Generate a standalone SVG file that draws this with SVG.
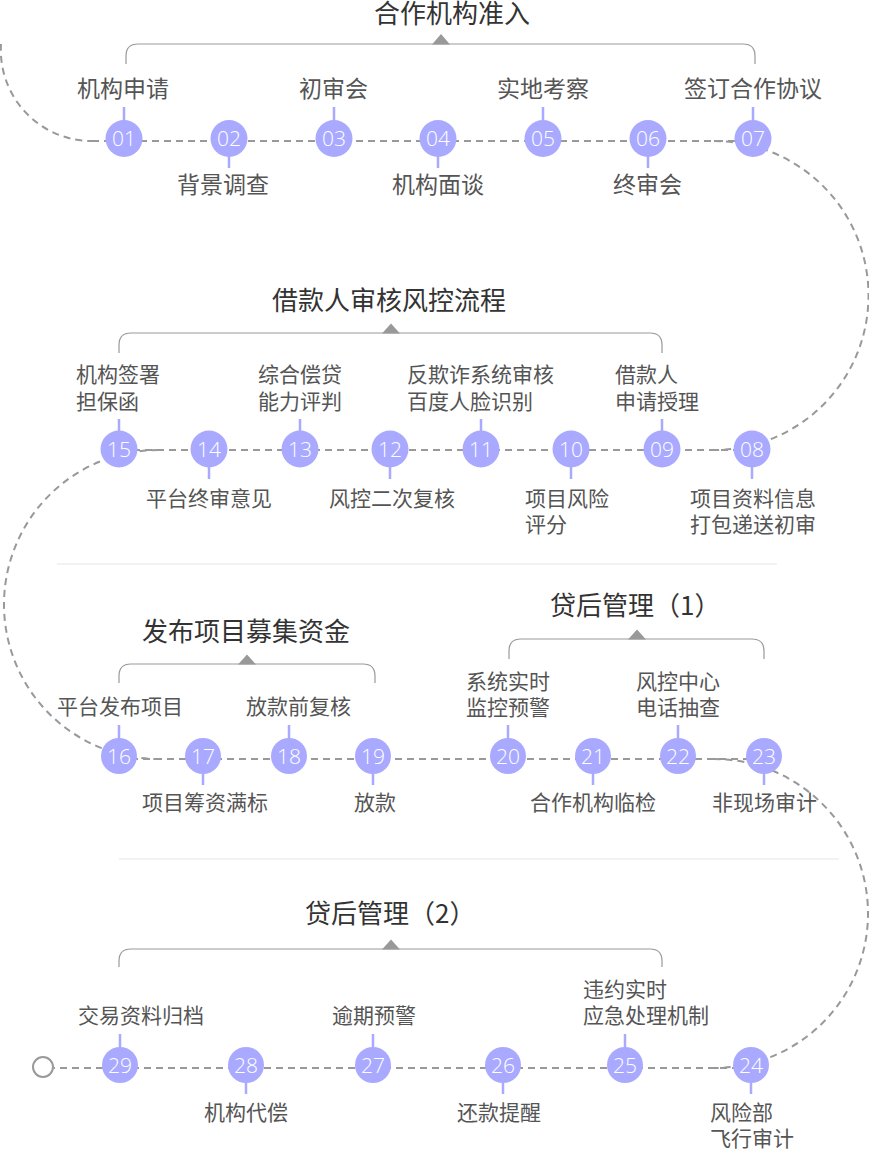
<svg xmlns="http://www.w3.org/2000/svg" width="869" height="1150" viewBox="0 0 869 1150">
<style>
.bg{fill:#ffffff}
.dash{fill:none;stroke:#999;stroke-width:2;stroke-dasharray:7 5}
.sep{stroke:#eeeeee;stroke-width:1.5}
.br{fill:none;stroke:#999;stroke-width:1.2}
.tri{fill:#999}
.dot{fill:#a9aaff}
.tick{stroke:#a9aaff;stroke-width:2.5}
.num{fill:#fff;font-family:"Open Sans","Liberation Sans",Arial,sans-serif;font-weight:300;font-size:21px;text-anchor:middle}
.t1{fill:#555;font-family:"Noto Sans CJK SC",sans-serif;font-size:23px}
.t2{fill:#555;font-family:"Noto Sans CJK SC",sans-serif;font-size:21px}
.title{fill:#333;font-family:"Noto Sans CJK SC",sans-serif;font-size:26px}
</style>
<rect class="bg" x="0" y="0" width="869" height="1150"/>
<g id="separators">
<line class="sep" x1="57" y1="564" x2="777" y2="564"/>
<line class="sep" x1="119" y1="859" x2="839" y2="859"/>
</g>
<g id="connectors">
<path class="dash" d="M 1 44 A 91 91 0 0 0 92 141"/>
<line class="dash" x1="92" y1="141" x2="753" y2="141"/>
<path class="dash" d="M 714 141 A 154.5 154.5 0 0 1 714 450"/>
<line class="dash" x1="752" y1="450" x2="119" y2="450"/>
<path class="dash" d="M 158.5 450 A 154.5 154.5 0 0 0 158.5 759"/>
<line class="dash" x1="119" y1="759" x2="764" y2="759"/>
<path class="dash" d="M 713.5 759 A 154.5 154.5 0 0 1 713.5 1068"/>
<line class="dash" x1="751" y1="1068" x2="54" y2="1068"/>
</g>
<g id="group-1">
<path class="br" d="M 126 64 L 126 56 Q 126 44 138 44 L 743 44 Q 755 44 755 56 L 755 64"/>
<polygon class="tri" points="432,44.5 450,44.5 441,34"/>
<text class="title" x="374" y="23">合作机构准入</text>
</g>
<g id="group-2">
<path class="br" d="M 119 353 L 119 345 Q 119 333 131 333 L 650 333 Q 662 333 662 345 L 662 353"/>
<polygon class="tri" points="382,333.5 400,333.5 391,323.5"/>
<text class="title" x="272" y="310">借款人审核风控流程</text>
</g>
<g id="group-3">
<path class="br" d="M 119 683 L 119 676 Q 119 664 131 664 L 363 664 Q 375 664 375 676 L 375 683"/>
<polygon class="tri" points="238,664.5 256,664.5 247,654.5"/>
<text class="title" x="142" y="641">发布项目募集资金</text>
</g>
<g id="group-4">
<path class="br" d="M 509 659 L 509 651 Q 509 639 521 639 L 752 639 Q 764 639 764 651 L 764 659"/>
<polygon class="tri" points="628,639.5 646,639.5 637,629.5"/>
<text class="title" x="550" y="615">贷后管理（1）</text>
</g>
<g id="group-5">
<path class="br" d="M 119 967 L 119 961 Q 119 949 131 949 L 650 949 Q 662 949 662 961 L 662 967"/>
<polygon class="tri" points="382,949.5 400,949.5 391,939.5"/>
<text class="title" x="305" y="923">贷后管理（2）</text>
</g>
<g id="node-01"><line class="tick" x1="124" y1="107" x2="124" y2="125"/><circle class="dot" cx="124" cy="138.5" r="18.5"/><text class="num" x="124" y="146">01</text><text class="t1" x="77" y="97">机构申请</text></g>
<g id="node-02"><line class="tick" x1="229" y1="152" x2="229" y2="168"/><circle class="dot" cx="229" cy="138.5" r="18.5"/><text class="num" x="229" y="146">02</text><text class="t1" x="177" y="193">背景调查</text></g>
<g id="node-03"><line class="tick" x1="334" y1="107" x2="334" y2="125"/><circle class="dot" cx="334" cy="138.5" r="18.5"/><text class="num" x="334" y="146">03</text><text class="t1" x="299" y="97">初审会</text></g>
<g id="node-04"><line class="tick" x1="438" y1="152" x2="438" y2="168"/><circle class="dot" cx="438" cy="138.5" r="18.5"/><text class="num" x="438" y="146">04</text><text class="t1" x="392" y="193">机构面谈</text></g>
<g id="node-05"><line class="tick" x1="543" y1="107" x2="543" y2="125"/><circle class="dot" cx="543" cy="138.5" r="18.5"/><text class="num" x="543" y="146">05</text><text class="t1" x="497" y="97">实地考察</text></g>
<g id="node-06"><line class="tick" x1="648" y1="152" x2="648" y2="168"/><circle class="dot" cx="648" cy="138.5" r="18.5"/><text class="num" x="648" y="146">06</text><text class="t1" x="613" y="193">终审会</text></g>
<g id="node-07"><line class="tick" x1="753" y1="107" x2="753" y2="125"/><circle class="dot" cx="753" cy="138.5" r="18.5"/><text class="num" x="753" y="146">07</text><text class="t1" x="684" y="97">签订合作协议</text></g>
<g id="node-08"><line class="tick" x1="752" y1="462" x2="752" y2="479"/><circle class="dot" cx="752" cy="449" r="18.5"/><text class="num" x="752" y="456.5">08</text><text class="t2" x="690" y="506">项目资料信息</text><text class="t2" x="690" y="532">打包递送初审</text></g>
<g id="node-09"><line class="tick" x1="662" y1="419" x2="662" y2="436"/><circle class="dot" cx="662" cy="449" r="18.5"/><text class="num" x="662" y="456.5">09</text><text class="t2" x="615" y="382">借款人</text><text class="t2" x="615" y="408.5">申请授理</text></g>
<g id="node-10"><line class="tick" x1="571" y1="462" x2="571" y2="479"/><circle class="dot" cx="571" cy="449" r="18.5"/><text class="num" x="571" y="456.5">10</text><text class="t2" x="525" y="506">项目风险</text><text class="t2" x="525" y="532">评分</text></g>
<g id="node-11"><line class="tick" x1="481" y1="419" x2="481" y2="436"/><circle class="dot" cx="481" cy="449" r="18.5"/><text class="num" x="481" y="456.5">11</text><text class="t2" x="407" y="382">反欺诈系统审核</text><text class="t2" x="407" y="408.5">百度人脸识别</text></g>
<g id="node-12"><line class="tick" x1="390" y1="462" x2="390" y2="479"/><circle class="dot" cx="390" cy="449" r="18.5"/><text class="num" x="390" y="456.5">12</text><text class="t2" x="329" y="506">风控二次复核</text></g>
<g id="node-13"><line class="tick" x1="300" y1="419" x2="300" y2="436"/><circle class="dot" cx="300" cy="449" r="18.5"/><text class="num" x="300" y="456.5">13</text><text class="t2" x="258" y="382">综合偿贷</text><text class="t2" x="258" y="408.5">能力评判</text></g>
<g id="node-14"><line class="tick" x1="209" y1="462" x2="209" y2="479"/><circle class="dot" cx="209" cy="449" r="18.5"/><text class="num" x="209" y="456.5">14</text><text class="t2" x="146" y="506">平台终审意见</text></g>
<g id="node-15"><line class="tick" x1="119" y1="419" x2="119" y2="436"/><circle class="dot" cx="119" cy="449" r="18.5"/><text class="num" x="119" y="456.5">15</text><text class="t2" x="76" y="382">机构签署</text><text class="t2" x="76" y="408.5">担保函</text></g>
<g id="node-16"><line class="tick" x1="119" y1="725" x2="119" y2="742"/><circle class="dot" cx="119" cy="756" r="18"/><text class="num" x="119" y="763.5">16</text><text class="t2" x="57" y="714">平台发布项目</text></g>
<g id="node-17"><line class="tick" x1="203" y1="770" x2="203" y2="785"/><circle class="dot" cx="203" cy="756" r="18"/><text class="num" x="203" y="763.5">17</text><text class="t2" x="142" y="810">项目筹资满标</text></g>
<g id="node-18"><line class="tick" x1="289" y1="725" x2="289" y2="742"/><circle class="dot" cx="289" cy="756" r="18"/><text class="num" x="289" y="763.5">18</text><text class="t2" x="246" y="714">放款前复核</text></g>
<g id="node-19"><line class="tick" x1="373" y1="770" x2="373" y2="785"/><circle class="dot" cx="373" cy="756" r="18"/><text class="num" x="373" y="763.5">19</text><text class="t2" x="354" y="810">放款</text></g>
<g id="node-20"><line class="tick" x1="508" y1="725" x2="508" y2="742"/><circle class="dot" cx="508" cy="756" r="18"/><text class="num" x="508" y="763.5">20</text><text class="t2" x="466" y="688.5">系统实时</text><text class="t2" x="466" y="715">监控预警</text></g>
<g id="node-21"><line class="tick" x1="593" y1="770" x2="593" y2="785"/><circle class="dot" cx="593" cy="756" r="18"/><text class="num" x="593" y="763.5">21</text><text class="t2" x="530" y="810">合作机构临检</text></g>
<g id="node-22"><line class="tick" x1="678" y1="725" x2="678" y2="742"/><circle class="dot" cx="678" cy="756" r="18"/><text class="num" x="678" y="763.5">22</text><text class="t2" x="636" y="688.5">风控中心</text><text class="t2" x="636" y="715">电话抽查</text></g>
<g id="node-23"><line class="tick" x1="764" y1="770" x2="764" y2="785"/><circle class="dot" cx="764" cy="756" r="18"/><text class="num" x="764" y="763.5">23</text><text class="t2" x="712" y="810">非现场审计</text></g>
<g id="node-24"><line class="tick" x1="751" y1="1079" x2="751" y2="1094"/><circle class="dot" cx="751" cy="1065" r="18"/><text class="num" x="751" y="1072.5">24</text><text class="t2" x="710" y="1120">风险部</text><text class="t2" x="710" y="1146">飞行审计</text></g>
<g id="node-25"><line class="tick" x1="625" y1="1034" x2="625" y2="1051"/><circle class="dot" cx="625" cy="1065" r="18"/><text class="num" x="625" y="1072.5">25</text><text class="t2" x="583" y="997">违约实时</text><text class="t2" x="583" y="1023">应急处理机制</text></g>
<g id="node-26"><line class="tick" x1="503" y1="1079" x2="503" y2="1094"/><circle class="dot" cx="503" cy="1065" r="18"/><text class="num" x="503" y="1072.5">26</text><text class="t2" x="457" y="1120">还款提醒</text></g>
<g id="node-27"><line class="tick" x1="373" y1="1034" x2="373" y2="1051"/><circle class="dot" cx="373" cy="1065" r="18"/><text class="num" x="373" y="1072.5">27</text><text class="t2" x="332" y="1023">逾期预警</text></g>
<g id="node-28"><line class="tick" x1="246" y1="1079" x2="246" y2="1094"/><circle class="dot" cx="246" cy="1065" r="18"/><text class="num" x="246" y="1072.5">28</text><text class="t2" x="204" y="1120">机构代偿</text></g>
<g id="node-29"><line class="tick" x1="120" y1="1034" x2="120" y2="1051"/><circle class="dot" cx="120" cy="1065" r="18"/><text class="num" x="120" y="1072.5">29</text><text class="t2" x="78" y="1023">交易资料归档</text></g>
<g id="start"><circle cx="43" cy="1067" r="10" fill="#fff" stroke="#999" stroke-width="2"/></g>
</svg>
